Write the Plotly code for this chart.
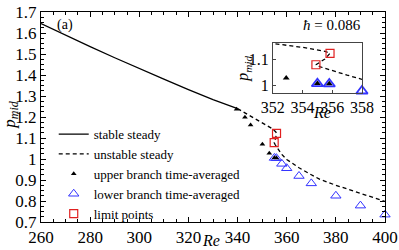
import numpy as np
import plotly.graph_objects as go

# ---- data ----
stable_re = [260, 270, 280, 290, 300, 310, 320, 325, 330, 340]
stable_p = [1.645, 1.589, 1.535, 1.482, 1.430, 1.380, 1.330, 1.305, 1.283, 1.240]

unstable_re = [340, 345, 350, 352, 354, 355.5, 355.85, 355.5, 354.9, 355.2, 356, 357, 358, 360, 365, 370, 373.5, 380, 390, 400]
unstable_p = [1.240, 1.205, 1.172, 1.160, 1.145, 1.130, 1.122, 1.100, 1.078, 1.070, 1.055, 1.038, 1.022, 0.998, 0.958, 0.925, 0.903, 0.875, 0.838, 0.798]

upper_re = [339.6, 343.0, 345.3, 350.1, 352.9, 355.0, 355.8]
upper_p = [1.237, 1.199, 1.162, 1.070, 1.027, 1.006, 1.005]

lower_re = [355.0, 355.8, 358.0, 360.0, 365.0, 370.0, 380.0, 390.0, 400.0]
lower_p = [1.005, 1.004, 0.977, 0.956, 0.919, 0.884, 0.825, 0.778, 0.735]

limit_re = [355.85, 354.9]
limit_p = [1.122, 1.078]

x_ticks = [260, 280, 300, 320, 340, 360, 380, 400]
inset_x_ticks = [352, 354, 356, 358]
inset_y_ticks = [1, 1.1]

FONT = "Liberation Serif, Times New Roman, serif"

fig = go.Figure()

# main traces
fig.add_trace(go.Scatter(x=stable_re, y=stable_p, mode="lines", name="stable steady",
                         line=dict(color="black", width=1.3), legendrank=1))
fig.add_trace(go.Scatter(x=unstable_re, y=unstable_p, mode="lines", name="unstable steady",
                         line=dict(color="black", width=1.3, dash="4px,3px"), legendrank=2))
fig.add_trace(go.Scatter(x=lower_re, y=lower_p, mode="markers", name="lower branch time-averaged",
                         marker=dict(symbol="triangle-up-open", size=9, color="#3333ff",
                                     line=dict(width=1)), cliponaxis=False, legendrank=4))
fig.add_trace(go.Scatter(x=upper_re, y=upper_p, mode="markers", name="upper branch time-averaged",
                         marker=dict(symbol="triangle-up", size=5, color="black"), cliponaxis=False,
                         legendrank=3))
fig.add_trace(go.Scatter(x=limit_re, y=limit_p, mode="markers", name="limit points",
                         marker=dict(symbol="square-open", size=8, color="#e02020",
                                     line=dict(width=1.2)), cliponaxis=False, legendrank=5))

# inset traces (same data on the inset axes)
def in_inset(xs, ys):
    xs = np.asarray(xs); ys = np.asarray(ys)
    m = (xs >= 351.9) & (xs <= 358.1)
    return xs[m], ys[m]

fig.add_trace(go.Scatter(x=unstable_re, y=unstable_p, mode="lines", showlegend=False,
                         line=dict(color="black", width=1.3, dash="4px,3px"),
                         xaxis="x2", yaxis="y2"))
lx, ly = in_inset(lower_re, lower_p)
fig.add_trace(go.Scatter(x=lx, y=ly, mode="markers", showlegend=False,
                         marker=dict(symbol="triangle-up-open", size=10, color="#3333ff",
                                     line=dict(width=1.8)), cliponaxis=False,
                         xaxis="x2", yaxis="y2"))
ux, uy = in_inset(upper_re, upper_p)
fig.add_trace(go.Scatter(x=ux, y=uy, mode="markers", showlegend=False,
                         marker=dict(symbol="triangle-up", size=6, color="black"), cliponaxis=False,
                         xaxis="x2", yaxis="y2"))
kx, ky = in_inset(limit_re, limit_p)
fig.add_trace(go.Scatter(x=kx, y=ky, mode="markers", showlegend=False,
                         marker=dict(symbol="square-open", size=8, color="#e02020",
                                     line=dict(width=1.2)), cliponaxis=False,
                         xaxis="x2", yaxis="y2"))

axis_common = dict(showline=True, linecolor="black", linewidth=1, mirror="allticks",
                   ticks="inside", ticklen=5, tickcolor="black", showgrid=False, zeroline=False,
                   automargin=False,
                   tickfont=dict(family=FONT, size=17, color="black"))

inset_common = dict(showline=True, linecolor="#444", linewidth=1, mirror=True,
                    ticks="inside", ticklen=3, tickcolor="#444", showgrid=False, zeroline=False,
                    automargin=False,
                    tickfont=dict(family=FONT, size=16, color="black"))

fig.update_layout(
    width=399, height=250,
    margin=dict(l=41, r=14, t=12, b=28, autoexpand=False),
    paper_bgcolor="white", plot_bgcolor="white",
    font=dict(family=FONT, color="black"),
    xaxis=dict(range=[260, 400], tickvals=x_ticks, ticklabelstandoff=0, **axis_common,
               minor=dict(dtick=5, ticklen=3, ticks="inside", tickcolor="black")),
    yaxis=dict(range=[0.7, 1.7], dtick=0.1, ticklabelstandoff=0, **axis_common,
               minor=dict(dtick=0.025, ticklen=3, ticks="inside", tickcolor="black")),
    xaxis2=dict(domain=[0.674, 0.933], anchor="y2", range=[352, 358], tickvals=inset_x_ticks,
                ticklabelstandoff=0, **inset_common),
    yaxis2=dict(domain=[0.614, 0.852], anchor="x2", range=[0.969, 1.1615], tickvals=inset_y_ticks,
                ticklabelstandoff=0, **inset_common),
    legend=dict(x=0.037, y=0.49, xanchor="left", yanchor="top", bgcolor="rgba(0,0,0,0)",
                font=dict(family=FONT, size=13, color="black"),
                tracegroupgap=0, itemwidth=30, traceorder="normal"),
    showlegend=True,
)

ann = [
    dict(text="<i>Re</i>", x=0.494, y=-0.09, xref="paper", yref="paper", showarrow=False,
         font=dict(family=FONT, size=16), xanchor="center", yanchor="middle"),
    dict(text="<i>p</i><sub><i>mid</i></sub>", x=-0.088, y=0.51, xref="paper", yref="paper",
         showarrow=False, textangle=-90, font=dict(family=FONT, size=17),
         xanchor="center", yanchor="middle"),
    dict(text="(a)", x=0.071, y=0.94, xref="paper", yref="paper", showarrow=False,
         font=dict(family=FONT, size=14), xanchor="center", yanchor="middle"),
    dict(text="<i>ħ</i> = 0.086", x=0.937, y=0.94, xref="paper", yref="paper", showarrow=False,
         font=dict(family=FONT, size=15), xanchor="right", yanchor="middle"),
    dict(text="<i>Re</i>", x=0.818, y=0.52, xref="paper", yref="paper", showarrow=False,
         font=dict(family=FONT, size=16), xanchor="center", yanchor="middle"),
    dict(text="<i>p</i><sub><i>mid</i></sub>", x=0.59, y=0.73, xref="paper", yref="paper",
         showarrow=False, textangle=-90, font=dict(family=FONT, size=16),
         xanchor="center", yanchor="middle"),
]
fig.update_layout(annotations=ann)

fig.write_html("out.html", config={"displayModeBar": False},
               post_script="document.body.style.margin='0';document.body.style.padding='0';")
